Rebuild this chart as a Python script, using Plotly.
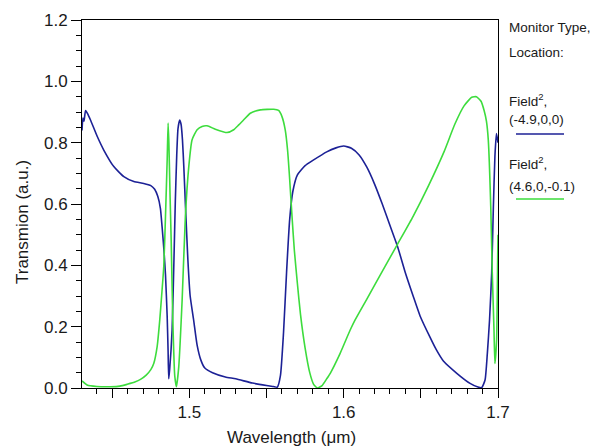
import plotly.graph_objects as go

# ---- data ----
wl_blue = [1.4304, 1.4310, 1.4317, 1.4327, 1.4340, 1.4359, 1.4403, 1.4445, 1.4510, 1.4575,
           1.4640, 1.4704, 1.4750, 1.4775, 1.4795, 1.4812, 1.4823, 1.4835, 1.4845, 1.4856,
           1.4862, 1.4866, 1.4872, 1.4888, 1.4900, 1.4909, 1.4918, 1.4926, 1.4937, 1.4946,
           1.4955, 1.4964, 1.4974, 1.4990, 1.5005, 1.5028, 1.5050, 1.5075, 1.5100, 1.5150,
           1.5233, 1.5300, 1.5408, 1.5500, 1.5544, 1.5570, 1.5590, 1.5610, 1.5630, 1.5650,
           1.5670, 1.5700, 1.5750, 1.5800, 1.5890, 1.5950, 1.6000, 1.6050, 1.6100, 1.6150,
           1.6200, 1.6250, 1.6300, 1.6350, 1.6400, 1.6450, 1.6495, 1.6560, 1.6600,
           1.6646, 1.6733, 1.6819, 1.6870, 1.6894, 1.6916, 1.6931, 1.6945, 1.6959, 1.6970,
           1.6980, 1.6990, 1.7000]
t_blue = [0.84, 0.88, 0.87, 0.905, 0.895, 0.874, 0.82, 0.776, 0.722, 0.689,
          0.673, 0.667, 0.660, 0.648, 0.625, 0.586, 0.526, 0.45, 0.37, 0.233,
          0.12, 0.03, 0.06, 0.19, 0.42, 0.613, 0.76, 0.845, 0.874, 0.86,
          0.81, 0.72, 0.60, 0.42, 0.30, 0.22, 0.14, 0.09, 0.065, 0.050,
          0.036, 0.030, 0.016, 0.008, 0.005, 0.003, 0.04, 0.18, 0.38, 0.55,
          0.64, 0.695, 0.725, 0.742, 0.770, 0.783, 0.789, 0.782, 0.760, 0.72,
          0.665, 0.60, 0.53, 0.46, 0.375, 0.30, 0.235, 0.165, 0.125,
          0.088, 0.048, 0.015, 0.003, 0.001, 0.026, 0.113, 0.22, 0.374, 0.59,
          0.755, 0.83, 0.80]

wl_green = [1.4304, 1.4337, 1.4400, 1.4489, 1.4550, 1.4597, 1.4650, 1.4683, 1.4720, 1.4750,
            1.4769, 1.4791, 1.4808, 1.4820, 1.4834, 1.4845, 1.4856, 1.4862, 1.4867, 1.4875,
            1.4882, 1.4892, 1.4905, 1.4916, 1.4931, 1.4953, 1.4974, 1.4996, 1.5017, 1.5050,
            1.5082, 1.5115, 1.5168, 1.5244, 1.5287, 1.5320, 1.5351, 1.5395, 1.5460, 1.5546,
            1.5578, 1.5600, 1.5621, 1.5636, 1.5650, 1.5665, 1.5680, 1.5700, 1.5720, 1.5750,
            1.5780, 1.5805, 1.5830, 1.5860, 1.5890, 1.5913, 1.5977, 1.6042, 1.6074, 1.6150,
            1.6250, 1.6350, 1.6450, 1.6550, 1.6650, 1.6720, 1.6780, 1.6830, 1.6860, 1.6890,
            1.6910, 1.6925, 1.6937, 1.6953, 1.6963, 1.6974, 1.6980, 1.6991, 1.6998, 1.7000]
t_green = [0.023, 0.010, 0.005, 0.004, 0.006, 0.012, 0.020, 0.028, 0.042, 0.060,
           0.08, 0.135, 0.222, 0.30, 0.396, 0.559, 0.744, 0.864, 0.80, 0.62,
           0.48, 0.233, 0.04, 0.004, 0.069, 0.287, 0.559, 0.722, 0.809, 0.842,
           0.853, 0.855, 0.844, 0.833, 0.842, 0.858, 0.874, 0.896, 0.907, 0.909,
           0.905, 0.885, 0.842, 0.777, 0.68, 0.56, 0.45, 0.34, 0.24, 0.13,
           0.05, 0.012, 0.0, 0.008, 0.030, 0.048, 0.113, 0.189, 0.222, 0.29,
           0.38, 0.47, 0.56, 0.66, 0.77, 0.86, 0.92, 0.948, 0.950, 0.935,
           0.905, 0.87, 0.809, 0.592, 0.374, 0.189, 0.08, 0.157, 0.428, 0.50]

x_labeled_ticks = [1.5, 1.6, 1.7]
x_mid_ticks = [1.45, 1.55, 1.65]
y_tickvals = [0.0, 0.2, 0.4, 0.6, 0.8, 1.0, 1.2]

legend_texts = ["Monitor Type,", "Location:", "Field<sup>2</sup>,", "(-4.9,0,0)",
                "Field<sup>2</sup>,", "(4.6,0,-0.1)"]

BLUE = "#1c2196"
GREEN = "#3ddc3d"
FONT = "Liberation Sans, Arial, sans-serif"
TXT = "#1a1a1a"
X_RANGE = [1.4304, 1.7]

fig = go.Figure()
fig.add_trace(go.Scatter(x=wl_blue, y=t_blue, mode="lines",
                         line=dict(color=BLUE, width=1.6, shape="spline", smoothing=0.5),
                         showlegend=False))
fig.add_trace(go.Scatter(x=wl_green, y=t_green, mode="lines",
                         line=dict(color=GREEN, width=1.6, shape="spline", smoothing=0.5),
                         showlegend=False))
# carrier for the unlabeled 0.05 major ticks
fig.add_trace(go.Scatter(x=[None], y=[None], xaxis="x2", mode="lines",
                         showlegend=False, hoverinfo="skip"))

W, H = 596, 448
PL, PR, PT, PB = 82, 498, 20, 388          # plot area in window pixels
L, T, R, B = PL, PT, W - PR, H - PB
pw, ph = PR - PL, PB - PT

def px(xp):
    return (xp - PL) / pw

def py(yp):
    return (PB - yp) / ph

fig.update_layout(
    width=W, height=H, autosize=False,
    margin=dict(l=L, r=R, t=T, b=B, pad=0),
    plot_bgcolor="white", paper_bgcolor="white",
    font=dict(family=FONT, size=17, color=TXT),
    xaxis=dict(range=X_RANGE, showgrid=False, zeroline=False,
               showline=True, linecolor="black", linewidth=1, mirror=True,
               tickmode="array", tickvals=x_labeled_ticks, tickformat=".1f",
               ticks="outside", ticklen=9, tickcolor="black", tickwidth=1,
               tickfont=dict(family=FONT, size=17, color=TXT),
               minor=dict(tickmode="linear", tick0=1.43, dtick=0.01, ticks="outside",
                          ticklen=5, tickcolor="black", tickwidth=1)),
    xaxis2=dict(range=X_RANGE, overlaying="x", anchor="y", side="bottom",
                showgrid=False, zeroline=False, showline=False,
                tickmode="array", tickvals=x_mid_ticks, showticklabels=False,
                ticks="outside", ticklen=9, tickcolor="black", tickwidth=1),
    yaxis=dict(range=[0, 1.2], showgrid=False, zeroline=False,
               showline=True, linecolor="black", linewidth=1, mirror=True,
               tickmode="array", tickvals=y_tickvals, tickformat=".1f",
               ticks="outside", ticklen=10, tickcolor="black", tickwidth=1,
               tickfont=dict(family=FONT, size=17, color=TXT),
               minor=dict(tickmode="linear", tick0=0, dtick=0.05, ticks="outside",
                          ticklen=5, tickcolor="black", tickwidth=1)),
)

# axis titles
fig.add_annotation(text="Wavelength (\u03bcm)", xref="paper", yref="paper",
                   x=px(291), y=py(437), xanchor="center", yanchor="middle",
                   showarrow=False, font=dict(family=FONT, size=17, color=TXT))
fig.add_annotation(text="Transmion (a.u.)", xref="paper", yref="paper",
                   x=px(22), y=py(222), xanchor="center", yanchor="middle",
                   textangle=-90, showarrow=False,
                   font=dict(family=FONT, size=17, color=TXT))

# custom legend
legend_y = [27, 52, 100, 119, 163, 186]
for txt, yy in zip(legend_texts, legend_y):
    fig.add_annotation(text=txt, xref="paper", yref="paper", x=px(507), y=py(yy),
                       xanchor="left", yanchor="middle", showarrow=False,
                       font=dict(family=FONT, size=13.5, color=TXT))
for col, yy in [(BLUE, 134), (GREEN, 199)]:
    fig.add_shape(type="line", xref="paper", yref="paper",
                  x0=px(516), x1=px(564), y0=py(yy), y1=py(yy),
                  line=dict(color=col, width=1.6))

# remove the default page margin so the figure sits exactly in the window
fig.write_html("out.html",
               config={"displayModeBar": False},
               post_script="document.body.style.margin='0';"
                           "document.body.style.overflow='hidden';")
